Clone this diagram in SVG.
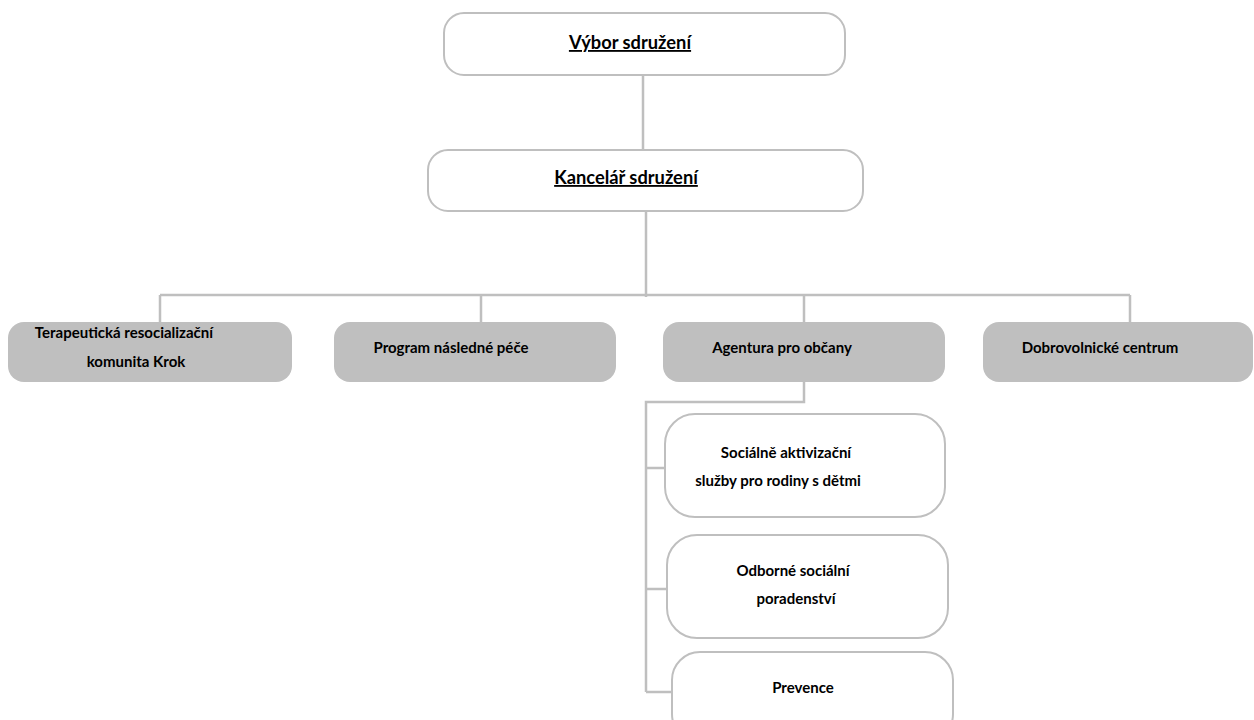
<svg xmlns="http://www.w3.org/2000/svg" width="1254" height="720" viewBox="0 0 1254 720">
<style>
.w{fill:#fff;stroke:#bfbfbf;stroke-width:2}
.g{fill:#bfbfbf;stroke:none}
.c{fill:none;stroke:#bfbfbf;stroke-width:2.5}
text{font-family:Lato,"Open Sans",sans-serif;font-weight:bold;fill:#000;font-size:15px}
.t{font-size:18.3px;text-decoration:underline}
</style>
<rect width="1254" height="720" fill="#fff"/>
<g id="connectors">
<path class="c" d="M643 75V150M646 211V297M160 295H1130M160 295V324M481 295V326M804 295V324M1130 295V324"/>
<path class="c" d="M804 382V402H646V692M646 468H667M646 589H669M646 692H674"/>
</g>
<g id="vybor"><rect class="w" x="444" y="13" width="401" height="62" rx="20"/><text class="t" x="630" y="49" text-anchor="middle">Výbor sdružení</text></g>
<g id="kancelar"><rect class="w" x="428" y="150" width="435" height="61" rx="20"/><text class="t" x="626" y="184" text-anchor="middle">Kancelář sdružení</text></g>
<g id="terapeuticka"><rect class="g" x="8" y="322" width="284" height="60" rx="16"/><text x="124" y="338" text-anchor="middle">Terapeutická resocializační</text><text x="136" y="367" text-anchor="middle">komunita Krok</text></g>
<g id="program"><rect class="g" x="334" y="322" width="282" height="60" rx="16"/><text x="451" y="353" text-anchor="middle">Program následné péče</text></g>
<g id="agentura"><rect class="g" x="663" y="322" width="282" height="60" rx="16"/><text x="782" y="353" text-anchor="middle">Agentura pro občany</text></g>
<g id="dobrovolnicke"><rect class="g" x="983" y="322" width="270" height="60" rx="16"/><text x="1100" y="353" text-anchor="middle">Dobrovolnické centrum</text></g>
<g id="socialne"><rect class="w" x="665" y="414" width="280" height="103" rx="30"/><text x="786" y="458" text-anchor="middle">Sociálně aktivizační</text><text x="778" y="486" text-anchor="middle">služby pro rodiny s dětmi</text></g>
<g id="odborne"><rect class="w" x="667" y="535" width="281" height="103" rx="30"/><text x="793" y="576" text-anchor="middle">Odborné sociální</text><text x="796" y="604" text-anchor="middle">poradenství</text></g>
<g id="prevence"><rect class="w" x="672" y="652" width="281" height="90" rx="28"/><text x="803" y="693" text-anchor="middle">Prevence</text></g>
</svg>
